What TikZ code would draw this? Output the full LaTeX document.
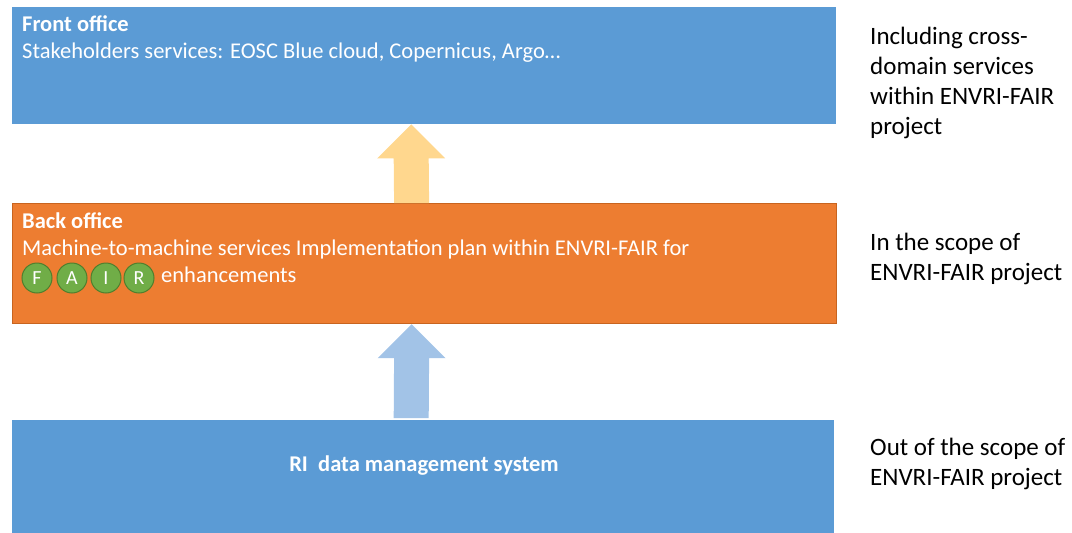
\documentclass[tikz,border=0pt]{standalone}
\usepackage{fontspec}
\setmainfont{Carlito}
\usetikzlibrary{calc}
\definecolor{officeblue}{HTML}{5B9BD5}
\definecolor{officeorange}{HTML}{ED7D31}
\definecolor{orangeline}{HTML}{C8641F}
\definecolor{fairgreen}{HTML}{70AD47}
\definecolor{fairline}{HTML}{4F7F2E}
\definecolor{upyellow}{HTML}{FFD78E}
\definecolor{upblue}{HTML}{A2C3E7}
\tikzset{
	layer/.style={rectangle, minimum width=824pt, anchor=north west, inner sep=0pt},
	boxtext/.style={anchor=base west, inner sep=0pt, text=white, font=\fontsize{22.5}{27}\selectfont},
	boxtitle/.style={boxtext, font=\fontsize{22.5}{27}\selectfont\bfseries},
	scopetext/.style={anchor=north west, inner sep=0pt, align=left, font=\fontsize{25}{30}\selectfont},
	fairdot/.style={circle, fill=fairgreen, draw=fairline, line width=1pt, minimum size=30pt, inner sep=0pt, text=white, font=\fontsize{20}{24}\selectfont}
}

\begin{document}
\begin{tikzpicture}[x=1pt, y=-1pt]
\useasboundingbox (0,0) rectangle (1072,533);

% the three layers
\node[layer, fill=officeblue, minimum height=117pt] (front) at (12,7) {};
\node[layer, fill=officeorange, draw=orangeline, line width=1.2pt, minimum height=120pt] (back) at (12,203) {};
\node[layer, fill=officeblue, minimum height=113pt, minimum width=822pt] (ri) at (12,420) {};

\node[boxtitle] (fronttitle) at (22,31) {Front office};
\node[boxtext] (frontsub) at (22,58) {Stakeholders services: EOSC Blue cloud, Copernicus, Argo\ldots};

\node[boxtitle] (backtitle) at (22,228) {Back office};
\node[boxtext] (backsub) at (22,255) {Machine-to-machine services Implementation plan within ENVRI-FAIR for};

\node[fairdot] (F) at (37,278) {F};
\node[fairdot] (A) at (72,278) {A};
\node[fairdot] (I) at (106,278) {I};
\node[fairdot] (R) at (139,278) {R};
\node[boxtext] (enh) at (161,282) {enhancements};

\node[boxtitle, anchor=base] (ritext) at (424,471) {RI\ \ data management system};

% arrows between layers
\coordinate (tip1) at ($(front.south)+(-13,0)$);
\coordinate (foot1) at ($(back.north)+(-13,0)$);
\coordinate (tip2) at ($(back.south)+(-13,0)$);
\coordinate (foot2) at ($(ri.north)+(-12,0)$);
\fill[upyellow] (tip1) -- ++(34,34) -- ++(-16.5,0) -- ($(foot1)+(17.5,0)$)
	-- ($(foot1)+(-17.5,0)$) -- ($(tip1)+(-17.5,34)$) -- ++(-16.5,0) -- cycle;
\fill[upblue] (tip2) -- ++(34,34) -- ++(-16.5,0) -- ($(foot2)+(17.5,-2)$)
	-- ($(foot2)+(-17.5,-2)$) -- ($(tip2)+(-17.5,34)$) -- ++(-16.5,0) -- cycle;

% scope on the right
\node[scopetext] (scope1) at (870,27) {Including cross-\\domain services\\within ENVRI-FAIR\\project};
\node[scopetext] (scope2) at (870,233) {In the scope of\\ENVRI-FAIR project};
\node[scopetext] (scope3) at (870,438) {Out of the scope of\\ENVRI-FAIR project};
\end{tikzpicture}
\end{document}
